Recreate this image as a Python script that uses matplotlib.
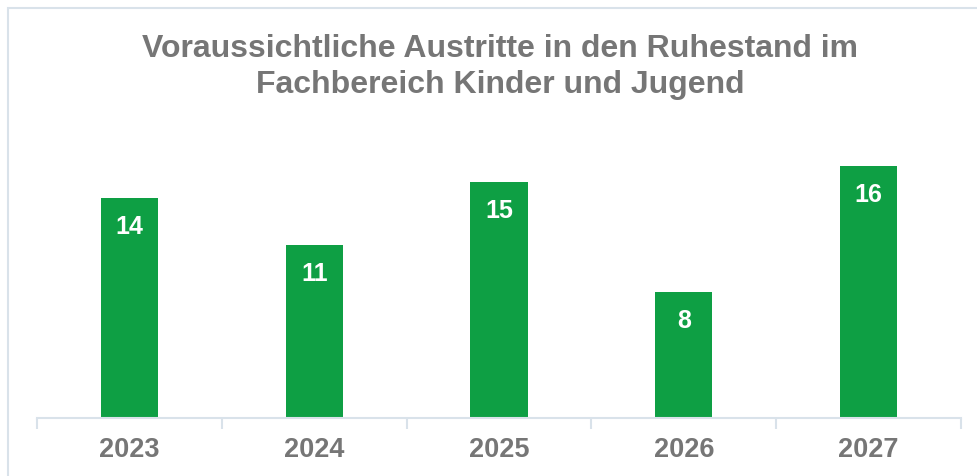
import matplotlib.pyplot as plt
from matplotlib.patches import Rectangle

years = ['2023', '2024', '2025', '2026', '2027']
values = [14, 11, 15, 8, 16]
title = 'Voraussichtliche Austritte in den Ruhestand im\nFachbereich Kinder und Jugend'

W, H = 977, 476
fig = plt.figure(figsize=(W / 100, H / 100), dpi=100)
plt.rcParams['font.family'] = ['Liberation Sans', 'DejaVu Sans']

grey = '#767676'
green = '#0E9F44'
line = '#D9E2EA'

# outer chart border (only left/top visible in the crop)
fig.patches.append(Rectangle((8 / W, -0.1), 1.2, (H - 8) / H + 0.1, transform=fig.transFigure,
                             fill=False, edgecolor=line, linewidth=1.5))

ax = fig.add_axes([37 / W, (H - 418) / H, (961 - 37) / W, (418 - 135) / H])
x = range(len(years))
bars = ax.bar(x, values, width=0.31, color=green)
ax.set_xlim(-0.5, len(years) - 0.5)
ax.set_ylim(0, 18)

for b, v in zip(bars, values):
    ax.annotate(str(v), (b.get_x() + b.get_width() / 2, v), xytext=(0, -29),
                textcoords='offset pixels',
                ha='center', va='center', color='white', fontsize=18, fontweight='bold')

for s in ['top', 'right', 'left']:
    ax.spines[s].set_visible(False)
ax.spines['bottom'].set_color(line)
ax.spines['bottom'].set_linewidth(1.5)
ax.set_yticks([])
ax.set_xticks([i - 0.5 for i in range(len(years) + 1)], minor=False)
ax.set_xticklabels([])
ax.tick_params(axis='x', length=8, color=line, width=1.5)
ax.set_xticks(list(x), minor=True)
ax.set_xticklabels(years, minor=True)
ax.tick_params(axis='x', which='minor', length=0, pad=14, labelsize=19.5, labelcolor=grey)
for t in ax.get_xticklabels(minor=True):
    t.set_fontweight('bold')

fig.text(500 / W, 1 - 67 / H, title, ha='center', va='center', fontsize=23,
         fontweight='bold', color=grey, linespacing=1.3)

fig.savefig('out.png', dpi=100)
